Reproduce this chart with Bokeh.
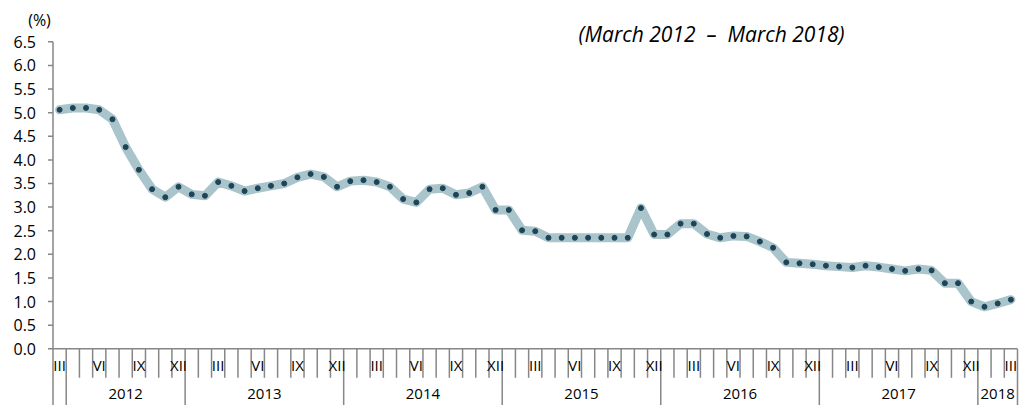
from bokeh.plotting import figure
from bokeh.models import Range1d, ColumnDataSource
from bokeh.core.properties import value
from bokeh.embed import file_html
from bokeh.resources import INLINE

# ---- data (monthly, March 2012 - March 2018, %) ----
rates = [
    5.06, 5.10, 5.10, 5.06, 4.86, 4.27, 3.79, 3.38, 3.21, 3.43,              # 2012 III-XII
    3.27, 3.24, 3.53, 3.45, 3.34, 3.40, 3.45, 3.50, 3.63, 3.70, 3.64, 3.43,  # 2013
    3.55, 3.57, 3.53, 3.43, 3.17, 3.10, 3.38, 3.40, 3.26, 3.30, 3.43, 2.94,  # 2014
    2.94, 2.51, 2.49, 2.35, 2.35, 2.35, 2.35, 2.35, 2.35, 2.35, 2.98, 2.42,  # 2015
    2.42, 2.65, 2.65, 2.43, 2.35, 2.39, 2.38, 2.27, 2.14, 1.83, 1.81, 1.79,  # 2016
    1.76, 1.74, 1.72, 1.76, 1.73, 1.69, 1.65, 1.69, 1.66, 1.39, 1.39, 1.00,  # 2017
    0.89, 0.96, 1.04,                                                        # 2018 I-III
]
roman = ["I", "II", "III", "IV", "V", "VI", "VII", "VIII", "IX", "X", "XI", "XII"]
shown_months = ["III", "VI", "IX", "XII"]
first_month = 3  # March
years = ["2012", "2013", "2014", "2015", "2016", "2017", "2018"]
y_ticks = [0.0, 0.5, 1.0, 1.5, 2.0, 2.5, 3.0, 3.5, 4.0, 4.5, 5.0, 5.5, 6.0, 6.5]
title_text = "(March\u00a02012\u00a0\u00a0\u2013\u00a0\u00a0March\u00a02018)"
unit_text = "(%)"

n = len(rates)
months = [roman[(first_month - 1 + i) % 12] for i in range(n)]
xs = [i + 0.5 for i in range(n)]

FONT = "Open Sans"
AXIS_COLOR = "#878787"
TEXT_COLOR = "#000000"

W, H = 1035, 405
# layout: category boundary 0 at px 52.5, boundary n at px 1017; value 0 at px 348.3, max tick at 41.3
X0_PX, XN_PX = 52.5, 1017.0
Y0_PX, YT_PX = 348.3, 41.3
ux = (XN_PX - X0_PX) / n
uy = (Y0_PX - YT_PX) / y_ticks[-1]


def dx(px):  # pixel offset -> data units (x)
    return px / ux


def dy(px):  # pixel offset -> data units (y), positive = downward
    return -px / uy


p = figure(width=W, height=H, output_backend="svg", toolbar_location=None,
           x_range=Range1d(-X0_PX / ux, (W - X0_PX) / ux),
           y_range=Range1d(-(H - Y0_PX) / uy, Y0_PX / uy),
           x_axis_type=None, y_axis_type=None,
           min_border_left=0, min_border_right=0, min_border_top=0, min_border_bottom=0)
p.outline_line_color = None
p.xgrid.visible = False
p.ygrid.visible = False
p.background_fill_color = "white"
p.border_fill_color = "white"

y_lo = p.y_range.start

# ---- value axis ----
p.segment(x0=[0], y0=[y_lo], x1=[0], y1=[y_ticks[-1]], line_color=AXIS_COLOR, line_width=1.5)
p.segment(x0=[dx(-5)] * len(y_ticks), y0=y_ticks, x1=[0] * len(y_ticks), y1=y_ticks,
          line_color=AXIS_COLOR, line_width=1.5)
p.text(x=[dx(-17)] * len(y_ticks), y=y_ticks, text=[f"{t:.1f}" for t in y_ticks],
       text_align="right", text_baseline="middle", text_font=value(FONT),
       text_font_size="16px", text_color=TEXT_COLOR)
p.text(x=[dx(-13.5)], y=[y_ticks[-1] + dy(-21.5)], text=[unit_text], text_align="center",
       text_baseline="middle", text_font=value(FONT), text_font_size="16px",
       text_color=TEXT_COLOR)

# ---- category axis ----
y_label_m = dy(16)
y_label_y = dy(45)
y_tick_end = dy(29)

group_starts = [1]
for i in range(1, n):
    if months[i] == "I":
        group_starts.append(i)
group_ends = group_starts[1:] + [n]
long_bounds = [1] + group_starts[1:] + [n]
short_bounds = [b for b in range(1, n) if b not in long_bounds]

p.segment(x0=[0], y0=[0], x1=[n], y1=[0], line_color=AXIS_COLOR, line_width=1.5)
p.segment(x0=short_bounds, y0=[0] * len(short_bounds), x1=short_bounds,
          y1=[y_tick_end] * len(short_bounds), line_color=AXIS_COLOR, line_width=1.5)
p.segment(x0=long_bounds, y0=[0] * len(long_bounds), x1=long_bounds,
          y1=[y_lo] * len(long_bounds), line_color=AXIS_COLOR, line_width=1.5)

mx = [xs[i] for i in range(n) if months[i] in shown_months]
mt = [months[i] for i in range(n) if months[i] in shown_months]
p.text(x=mx, y=[y_label_m] * len(mx), text=mt, text_align="center",
       text_baseline="middle", text_font=value(FONT), text_font_size="15px",
       text_color=TEXT_COLOR)

yx = [(s + e) / 2 for s, e in zip(group_starts, group_ends)]
p.text(x=yx, y=[y_label_y] * len(yx), text=years, text_align="center",
       text_baseline="middle", text_font=value(FONT), text_font_size="15px",
       text_color=TEXT_COLOR)

# ---- series ----
src = ColumnDataSource(dict(x=xs, y=rates))
p.line("x", "y", source=src, line_color="#a9c4cb", line_width=9, line_join="round",
       line_cap="round")
p.scatter("x", "y", source=src, size=5, fill_color="#1e4457", line_color="#1e4457")

# ---- period caption ----
p.text(x=[dx(711 - X0_PX)], y=[dy(33 - Y0_PX)], text=[title_text], text_align="center",
       text_baseline="middle", text_font=value(FONT), text_font_size="21px",
       text_font_style="italic", text_color=TEXT_COLOR)

open("out.html", "w").write(file_html(p, INLINE))
